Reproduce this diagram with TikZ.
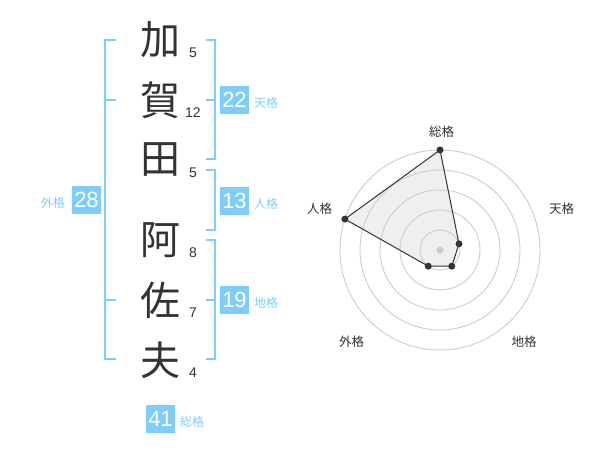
\documentclass[tikz,border=0pt]{standalone}
\usepackage{fontspec}
\setmainfont{Liberation Sans}
\newfontfamily\jp{Noto Sans CJK JP}
\definecolor{ink}{HTML}{333333}
\definecolor{sky}{HTML}{7FCDFB}
\definecolor{ring}{HTML}{CCCCCC}
\definecolor{area}{HTML}{EFEFEF}
\tikzset{
  kanji/.style={font=\jp\fontsize{40}{40}\selectfont, text=ink, inner sep=0pt},
  strokes/.style={font=\fontsize{14}{14}\selectfont, text=ink, inner sep=0pt},
  scorebox/.style={fill=sky, text=white, minimum width=29pt, minimum height=28pt, inner sep=0pt, font=\fontsize{22}{22}\selectfont},
  kaku/.style={font=\jp\fontsize{12}{12}\selectfont, text=sky, inner sep=0pt},
  radlab/.style={font=\jp\fontsize{12.5}{12.5}\selectfont, text=ink, inner sep=0pt},
  bracket/.style={draw=sky, line width=2pt},
  dot/.style={circle, fill=ink, inner sep=0pt, minimum size=7pt},
}
\begin{document}
\begin{tikzpicture}[x=1pt,y=-1pt]
\useasboundingbox (0,0) rectangle (600,470);
% kanji
\node[kanji] (k1) at (160,40) {加};
\node[kanji] (k2) at (160,100) {賀};
\node[kanji] (k3) at (160,160) {田};
\node[kanji] (k4) at (160,240) {阿};
\node[kanji] (k5) at (160,300) {佐};
\node[kanji] (k6) at (160,360) {夫};
% stroke counts
\node[strokes] (n1) at (193,53) {5};
\node[strokes] (n2) at (193,113) {12};
\node[strokes] (n3) at (193,173) {5};
\node[strokes] (n4) at (193,253) {8};
\node[strokes] (n5) at (193,313) {7};
\node[strokes] (n6) at (193,373) {4};
% brackets
\draw[bracket] (116,40) -- (105,40) -- (105,359) -- (116,359);
\draw[bracket] (105,100) -- (116,100);
\draw[bracket] (105,300) -- (116,300);
\draw[bracket] (206,40) -- (215,40) -- (215,159) -- (206,159);
\draw[bracket] (206,100) -- (215,100);
\draw[bracket] (206,170) -- (215,170) -- (215,230) -- (206,230);
\draw[bracket] (206,240) -- (215,240) -- (215,359) -- (206,359);
\draw[bracket] (206,300) -- (215,300);
% score boxes
\node[scorebox] (ten) at (234.5,100) {22};
\node[kaku, anchor=west] (tenl) at (254,103) {天格};
\node[scorebox] (jin) at (234.5,201) {13};
\node[kaku, anchor=west] (jinl) at (254,204) {人格};
\node[scorebox] (chi) at (234.5,300) {19};
\node[kaku, anchor=west] (chil) at (254,303) {地格};
\node[scorebox] (gai) at (86.5,200) {28};
\node[kaku, anchor=east] (gail) at (65,203) {外格};
\node[scorebox] (sou) at (160.5,419) {41};
\node[kaku, anchor=west] (soul) at (180,422) {総格};
% radar
\coordinate (c) at (440,250);
\coordinate (pS) at (440,150);
\coordinate (pT) at (459.02,243.82);
\coordinate (pC) at (451.76,266.18);
\coordinate (pG) at (428.24,266.18);
\coordinate (pJ) at (344.89,219.10);
\fill[area] (pS) -- (pT) -- (pC) -- (pG) -- (pJ) -- cycle;
\foreach \r in {20,40,60,80,100} \draw[ring, line width=0.9pt] (c) circle[radius=\r];
\draw[ink, line width=1pt] (pS) -- (pT) -- (pC) -- (pG) -- (pJ) -- cycle;
\node[circle, fill=ring, inner sep=0pt, minimum size=7pt] (cd) at (c) {};
\foreach \p in {pS,pT,pC,pG,pJ} \node[dot] (d\p) at (\p) {};
\node[radlab] (lS) at (441.5,131.5) {総格};
\node[radlab] (lT) at (561.5,208.5) {天格};
\node[radlab] (lC) at (524,341.5) {地格};
\node[radlab] (lG) at (351.5,341.5) {外格};
\node[radlab] (lJ) at (319.5,208.5) {人格};
\end{tikzpicture}
\end{document}
